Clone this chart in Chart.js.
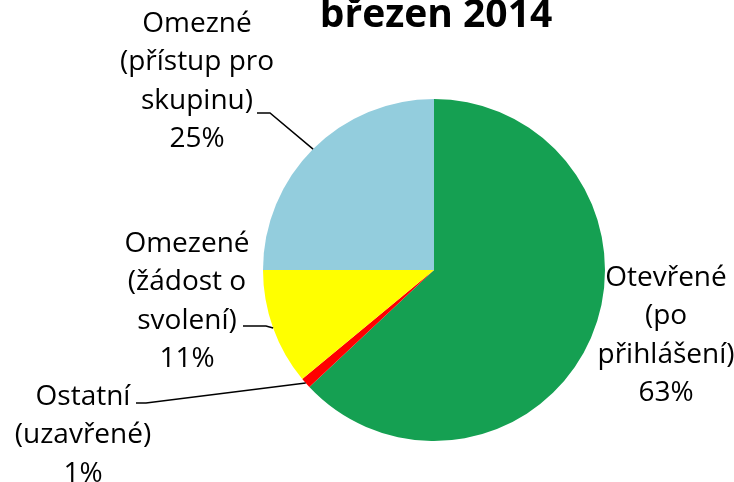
<!DOCTYPE html>
<html>
<head>
<meta charset="utf-8">
<script src="https://cdn.jsdelivr.net/npm/chart.js@4.4.0/dist/chart.umd.min.js"></script>
<style>
  html, body { margin: 0; padding: 0; background: #fff; }
  #wrap { width: 734px; height: 482px; }
</style>
</head>
<body>
<div id="wrap"><canvas id="chart"></canvas></div>
<script>
// data
const title = 'březen 2014';
const categories = [
  ['Otevřené', '(po', 'přihlášení)'],
  ['Ostatní', '(uzavřené)'],
  ['Omezené', '(žádost o', 'svolení)'],
  ['Omezné', '(přístup pro', 'skupinu)']
];
const values = [63, 1, 11, 25];
const colors = ['#15A052', '#FF0000', '#FFFF00', '#93CDDD'];

// where each label sits (text centre x, middle of first line y) and its leader line
const labelPos = [
  { x: 666, y: 278, leader: null },
  { x: 83, y: 397, leader: [[136, 403], [146, 403]] },
  { x: 187, y: 244, leader: [[243, 326], [266, 326]] },
  { x: 197, y: 24, leader: [[257, 113], [270, 113]] }
];
const FONT = '"Open Sans", sans-serif';
const LINE_H = 38.5;

const labelPlugin = {
  id: 'sliceLabels',
  afterDatasetsDraw(chart) {
    const ctx = chart.ctx;
    const meta = chart.getDatasetMeta(0);
    const total = values.reduce((a, b) => a + b, 0);
    ctx.save();
    ctx.fillStyle = '#000';
    ctx.strokeStyle = '#000';
    ctx.lineWidth = 1.5;
    ctx.textAlign = 'center';
    ctx.textBaseline = 'middle';
    ctx.font = '28px ' + FONT;
    meta.data.forEach((arc, i) => {
      const p = labelPos[i];
      const lines = categories[i].concat([Math.round(values[i] / total * 100) + '%']);
      lines.forEach((t, k) => ctx.fillText(t, p.x, p.y + k * LINE_H));
      if (p.leader) {
        const a = arc.getProps(['x', 'y', 'startAngle', 'endAngle', 'outerRadius'], true);
        const mid = (a.startAngle + a.endAngle) / 2;
        ctx.beginPath();
        ctx.moveTo(p.leader[0][0], p.leader[0][1]);
        ctx.lineTo(p.leader[1][0], p.leader[1][1]);
        ctx.lineTo(a.x + Math.cos(mid) * a.outerRadius, a.y + Math.sin(mid) * a.outerRadius);
        ctx.stroke();
      }
    });
    // title
    ctx.font = 'bold 39px ' + FONT;
    ctx.textBaseline = 'alphabetic';
    ctx.fillText(title, 436, 27);
    ctx.restore();
  }
};

new Chart(document.getElementById('chart'), {
  type: 'pie',
  data: {
    labels: categories.map(c => c.join(' ')),
    datasets: [{
      data: values,
      backgroundColor: colors,
      borderWidth: 0
    }]
  },
  options: {
    responsive: true,
    maintainAspectRatio: false,
    animation: false,
    layout: { padding: { left: 263, right: 129, top: 99, bottom: 41 } },
    plugins: {
      legend: { display: false },
      tooltip: { enabled: false }
    }
  },
  plugins: [labelPlugin]
});
</script>
</body>
</html>
